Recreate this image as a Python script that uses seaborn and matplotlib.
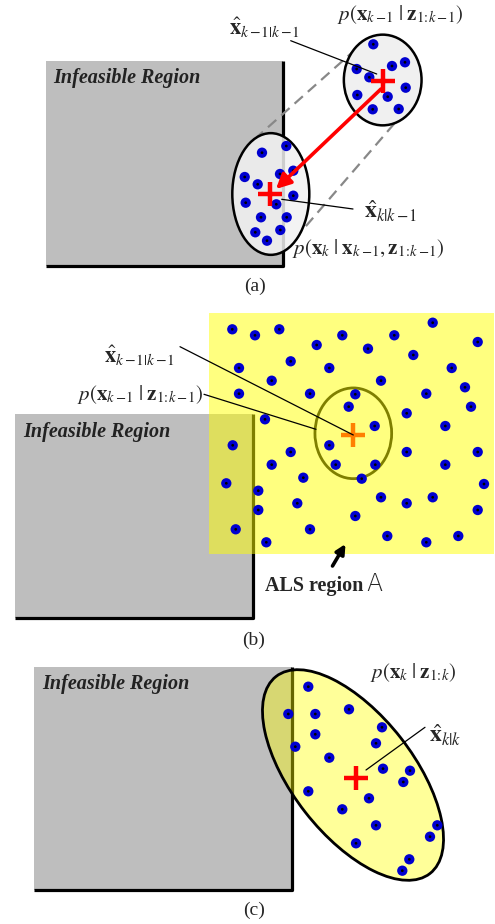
import numpy as np
import pandas as pd
import matplotlib
matplotlib.use('Agg')
import matplotlib.pyplot as plt
import seaborn as sns
from matplotlib.patches import Rectangle, Ellipse

sns.set_theme(style='white')
plt.rcParams['font.family'] = ['Liberation Serif', 'DejaVu Serif']
plt.rcParams['mathtext.fontset'] = 'stix'

# particle positions (pixel coordinates of the figure)
a_prev_x = [373.3, 356.7, 369.3, 392.0, 405.0, 357.3, 387.7, 405.7, 372.7, 398.7]
a_prev_y = [44.3, 69.0, 77.3, 66.0, 62.3, 95.0, 96.7, 87.7, 109.3, 109.0]
a_pred_x = [262.0, 286.3, 244.7, 257.7, 280.0, 293.3, 293.3, 245.7, 276.3, 261.0, 286.7, 255.3, 280.3, 267.0]
a_pred_y = [152.7, 146.0, 177.0, 184.3, 174.0, 170.7, 195.7, 202.7, 204.3, 217.3, 217.3, 232.3, 230.0, 240.7]

b_x = [232.3, 255.0, 279.3, 342.3, 394.3, 432.7, 477.7, 316.7, 368.0, 413.3, 290.7, 239.0, 329.3, 451.7,
       271.7, 381.0, 465.0, 239.0, 310.0, 355.3, 426.3, 348.7, 471.0, 406.7, 265.0, 374.7, 445.3, 232.7,
       329.3, 290.7, 406.7, 477.7, 271.7, 335.7, 375.3, 445.3, 303.3, 361.7, 226.3, 258.3, 484.0, 381.0,
       297.3, 406.7, 432.7, 258.3, 477.7, 355.3, 235.7, 310.0, 387.3, 458.3, 266.3, 426.3]
b_y = [329.3, 335.3, 329.3, 335.3, 335.3, 322.7, 342.0, 345.0, 348.7, 355.0, 361.3, 368.0, 368.0, 368.0,
       380.7, 380.7, 387.3, 393.7, 393.7, 394.3, 393.7, 406.7, 406.7, 413.3, 419.3, 426.0, 426.0, 445.3,
       445.3, 452.0, 452.0, 452.0, 464.7, 464.7, 464.7, 464.7, 477.7, 478.7, 483.3, 490.7, 484.0, 497.3,
       503.3, 503.3, 497.3, 510.0, 510.0, 516.0, 529.3, 529.3, 536.0, 536.0, 542.3, 542.3]

c_x = [308.3, 288.3, 315.3, 349.0, 315.3, 382.0, 295.3, 376.0, 329.3, 383.0, 410.0, 403.3, 308.3, 369.0,
       342.3, 376.0, 437.3, 430.0, 356.0, 409.3, 402.3]
c_y = [686.7, 714.0, 714.0, 709.3, 734.3, 727.3, 746.7, 743.3, 757.7, 768.7, 770.7, 782.0, 791.3, 798.3,
       809.3, 825.3, 825.3, 836.7, 843.3, 859.3, 870.7]

# estimates (red crosses)
est_x = [382.7, 270.0, 356.0]
est_y = [81.0, 194.0, 777.7]
est_b_x = [352.7]
est_b_y = [435.0]

fig = plt.figure(figsize=(4.95, 9.24), dpi=100)
ax = fig.add_axes([0, 0, 1, 1])
ax.set_xlim(0, 495)
ax.set_ylim(924, 0)
ax.axis('off')

gray = '#bebebe'

lbl_prev = r'$p(\mathbf{x}_{k-\!1}\;|\;\mathbf{z}_{1\!:\!k-\!1})$'
hat_prev = r'$\hat{\mathbf{x}}_{k-\!1|k-\!1}$'


def infeasible(x0, y0, x1, y1, tx, ty):
    ax.add_patch(Rectangle((x0, y0), x1 - x0, y1 - y0, facecolor=gray, edgecolor='none', zorder=1))
    ax.plot([x1, x1, x0], [y0, y1, y1], color='black', lw=2.3, zorder=2, solid_capstyle='butt')
    ax.text(tx, ty, 'Infeasible Region', fontsize=14.5, fontweight='bold', fontstyle='italic',
            color='#222222', ha='left', va='center', zorder=3)


def particles(xs, ys):
    df = pd.DataFrame({'x': xs, 'y': ys})
    sns.scatterplot(data=df, x='x', y='y', ax=ax, s=55, color='#0000d0', edgecolor='none', zorder=6)
    sns.scatterplot(data=df, x='x', y='y', ax=ax, s=4, color='black', edgecolor='none', zorder=7)


def crosses(xs, ys, color, z):
    df = pd.DataFrame({'x': xs, 'y': ys})
    sns.scatterplot(data=df, x='x', y='y', ax=ax, marker='+', s=300, color=color, linewidth=3.2, zorder=z)


# ---------------- (a) ----------------
infeasible(45.5, 61, 283, 265.5, 53, 78)
ax.plot([356, 257], [49, 137], color='#888888', lw=1.6, dashes=(5, 3), zorder=3)
ax.plot([406, 300], [110, 233], color='#888888', lw=1.6, dashes=(5, 3), zorder=3)
ax.add_patch(Ellipse((382.7, 80), 77.7, 90.7, facecolor='#f0f0f0', edgecolor='black', lw=1.8, zorder=4))
ax.add_patch(Ellipse((270.8, 194), 77, 121.7, facecolor='#f2f2f2', alpha=0.85, edgecolor='none', zorder=4))
ax.add_patch(Ellipse((270.8, 194), 77, 121.7, facecolor='none', edgecolor='black', lw=1.8, zorder=4.5))
particles(a_prev_x + a_pred_x, a_prev_y + a_pred_y)
ax.annotate('', xy=(276, 189), xytext=(381, 89),
            arrowprops=dict(arrowstyle='-|>', color='#ff0000', lw=2.6, mutation_scale=22,
                            shrinkA=0, shrinkB=0), zorder=8)
crosses(est_x[:2], est_y[:2], '#ff0000', 9)
ax.plot([290.7, 376.7], [40.7, 74], color='black', lw=0.9, zorder=10)
ax.plot([281.7, 353], [199.3, 209], color='black', lw=0.9, zorder=10)
ax.text(229, 28, hat_prev, fontsize=16, ha='left', va='center')
ax.text(337, 14, lbl_prev, fontsize=15, ha='left', va='center')
ax.text(364, 211, r'$\hat{\mathbf{x}}_{k|k-\!1}$', fontsize=17, ha='left', va='center')
ax.text(292, 248, r'$p(\mathbf{x}_{k}\;|\;\mathbf{x}_{k-\!1},\mathbf{z}_{1\!:\!k-\!1})$', fontsize=15,
        ha='left', va='center')
ax.text(255, 286, '(a)', fontsize=14, ha='center', va='center')

# ---------------- (b) ----------------
infeasible(15, 414.3, 253.3, 618.3, 23.3, 431.7)
ax.add_patch(Ellipse((353.3, 433.3), 76.7, 90.7, facecolor='none', edgecolor='black', lw=2.0, zorder=4))
crosses(est_b_x, est_b_y, '#ff0000', 4.5)
ax.add_patch(Rectangle((209.3, 313.3), 285, 240.7, facecolor='#ffff00', alpha=0.5, edgecolor='none', zorder=5))
particles(b_x, b_y)
ax.plot([180, 353.3], [346.7, 435], color='black', lw=0.9, zorder=10)
ax.plot([204, 316], [394.3, 429.3], color='black', lw=0.9, zorder=10)
ax.annotate('', xy=(345.5, 544), xytext=(332.5, 566),
            arrowprops=dict(arrowstyle='-|>', color='black', lw=2.6, mutation_scale=14,
                            shrinkA=0, shrinkB=0), zorder=10)
ax.text(104, 356, hat_prev, fontsize=16, ha='left', va='center')
ax.text(77, 394, lbl_prev, fontsize=15, ha='left', va='center')
ax.text(265, 586, 'ALS region', fontsize=14.5, fontweight='bold', ha='left', va='center')
ax.text(366, 584, 'A', fontsize=17, ha='left', va='center', family=['DejaVu Sans'], fontweight='light')
ax.text(254, 640, '(b)', fontsize=14, ha='center', va='center')

# ---------------- (c) ----------------
infeasible(34.3, 666.7, 291.7, 890, 42.7, 684)
ax.add_patch(Ellipse((353, 775), 250, 121, angle=52, facecolor='#ffff00', alpha=0.4,
                     edgecolor='none', zorder=4))
ax.add_patch(Ellipse((353, 775), 250, 121, angle=52, facecolor='none', edgecolor='black',
                     lw=2.0, zorder=4.5))
particles(c_x, c_y)
crosses(est_x[2:], est_y[2:], '#ff0000', 9)
ax.plot([366, 425], [770, 727.3], color='black', lw=0.9, zorder=10)
ax.text(429, 735, r'$\hat{\mathbf{x}}_{k|k}$', fontsize=17, ha='left', va='center')
ax.text(370, 673, r'$p(\mathbf{x}_{k}\;|\;\mathbf{z}_{1\!:\!k})$', fontsize=15, ha='left', va='center')
ax.text(254, 910, '(c)', fontsize=14, ha='center', va='center')

ax.set_xlabel('')
ax.set_ylabel('')
fig.savefig('out.png', dpi=100)
